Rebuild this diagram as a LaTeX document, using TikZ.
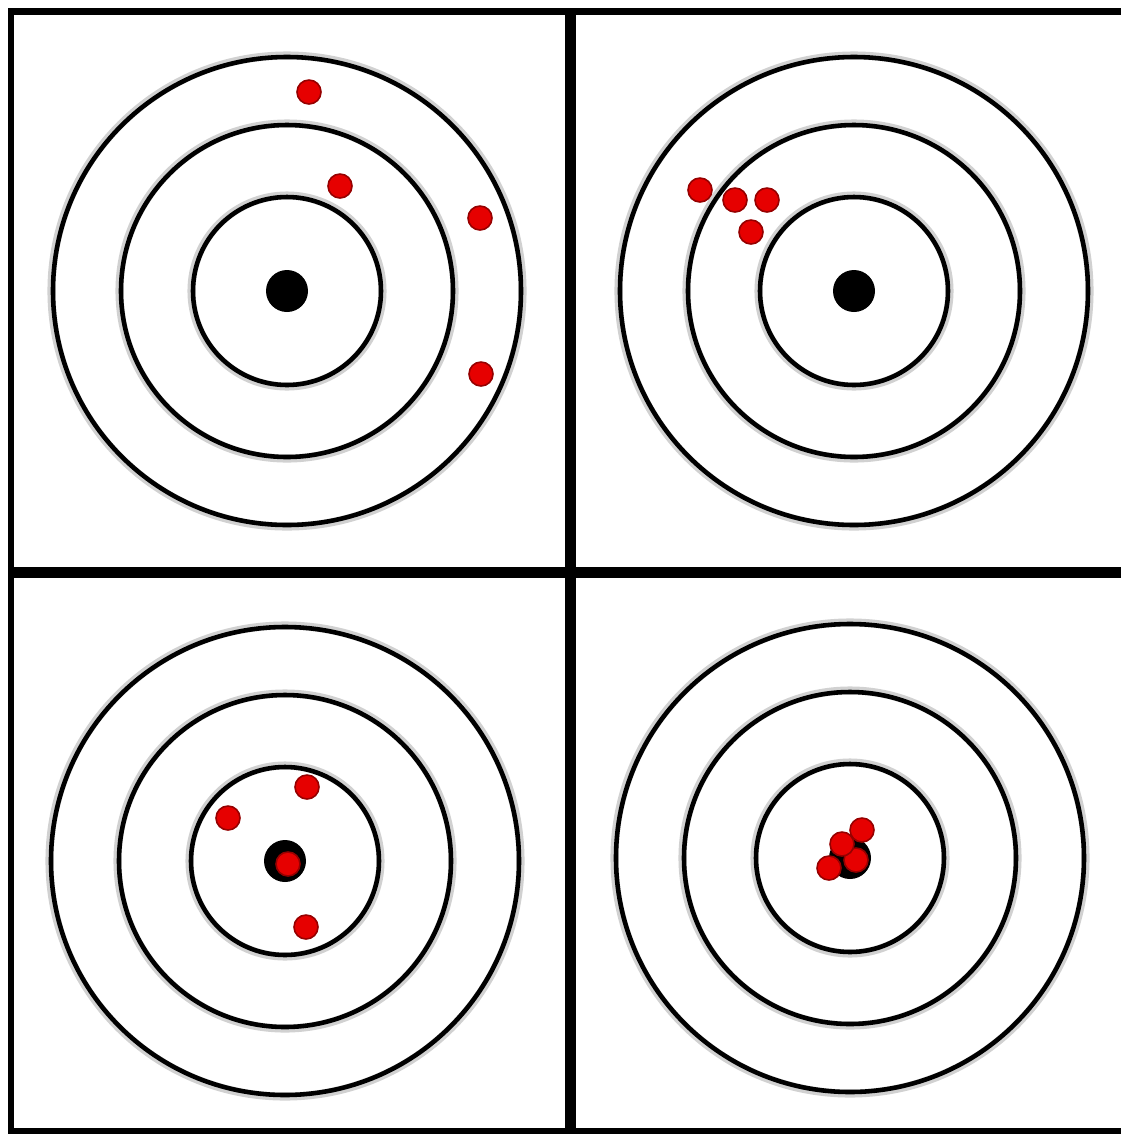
\documentclass[tikz,border=0pt]{standalone}
\usepackage{xcolor}
\usetikzlibrary{calc}

\definecolor{shotred}{RGB}{230,0,0}
\definecolor{shotedge}{RGB}{150,0,0}
\tikzset{
  ring/.style={line width=2.6pt},
  halo/.style={line width=4.6pt,black!18},
  shot/.style={fill=shotred,draw=shotedge,line width=0.9pt},
  divider/.style={line width=5.8pt},
  border/.style={line width=3.8pt},
}

\begin{document}
\begin{tikzpicture}[x=0.02cm,y=-0.02cm]
\useasboundingbox (0,0) rectangle (1121,1134);
\fill[white] (0,0) rectangle (1121,1134);

% the four targets
\foreach \cx/\cy/\name in {287/291/tl,854/291/tr,285/861/bl,850/858/br}{
  \coordinate (\name) at (\cx,\cy);
  \foreach \r in {234,166,94}{
    \draw[halo] (\name) circle (\r+1.5);
    \draw[ring] (\name) circle (\r);
  }
  \fill (\name) circle (21);
}

% hits
\foreach \sx/\sy in {309/92,340/186,480/218,481/374,
                     700/190,735/200,767/200,751/232,
                     228/818,307/787,288/864,306/927,
                     862/830,829/868,856/860,842/844}{
  \draw[shot] (\sx,\sy) circle (12);
}

% frame and dividers
\coordinate (nw) at (11,11.5);
\coordinate (ne) at (1121,11.5);
\coordinate (sw) at (11,1131.5);
\coordinate (se) at (1121,1131.5);
\draw[border] (ne) -- (nw) -- (sw) -- (se);
\coordinate (vt) at (570.5,8);
\coordinate (vb) at (570.5,1134);
\coordinate (hl) at (8,572.5);
\coordinate (hr) at (1121,572.5);
\draw[divider] (vt) -- (vb);
\draw[divider] (hl) -- (hr);
\end{tikzpicture}
\end{document}
